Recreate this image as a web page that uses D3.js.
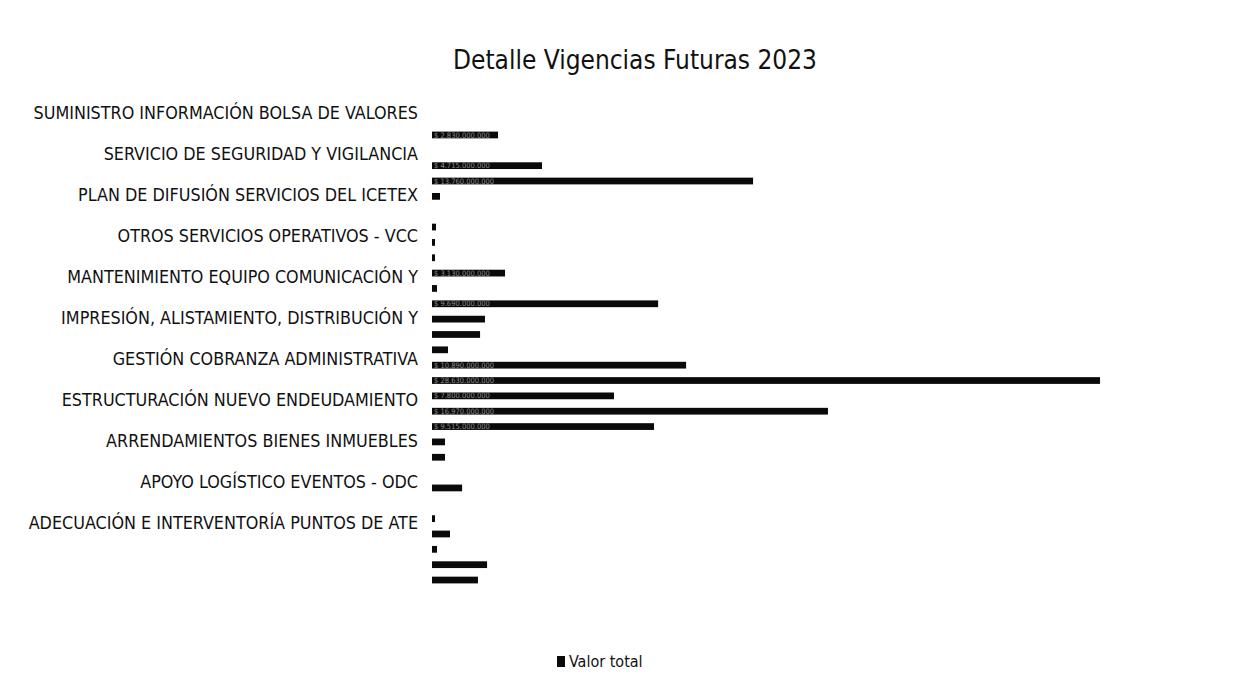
<!DOCTYPE html>
<html>
<head>
<meta charset="utf-8">
<script src="https://cdn.jsdelivr.net/npm/d3@7"></script>
<style>
  body { margin: 0; background: #fff; }
  text { font-family: "Liberation Sans Narrow", "DejaVu Sans Condensed", "Liberation Sans", sans-serif; }
</style>
</head>
<body>
<div id="chart"></div>
<script>
// group names shown on the category axis (top to bottom)
var categories = [
  "SUMINISTRO INFORMACIÓN BOLSA DE VALORES",
  "SERVICIO DE SEGURIDAD Y VIGILANCIA",
  "PLAN DE DIFUSIÓN SERVICIOS DEL ICETEX",
  "OTROS SERVICIOS OPERATIVOS - VCC",
  "MANTENIMIENTO EQUIPO COMUNICACIÓN Y",
  "IMPRESIÓN, ALISTAMIENTO, DISTRIBUCIÓN Y",
  "GESTIÓN COBRANZA ADMINISTRATIVA",
  "ESTRUCTURACIÓN NUEVO ENDEUDAMIENTO",
  "ARRENDAMIENTOS BIENES INMUEBLES",
  "APOYO LOGÍSTICO EVENTOS - ODC",
  "ADECUACIÓN E INTERVENTORÍA PUNTOS DE ATE"
];

// "Valor total" per contract row, top to bottom (pesos), null = empty row
var valorTotal = [
  2830000000, null, 4715000000, 13760000000, 343000000,
  null, 171000000, 129000000, 129000000, 3130000000,
  214000000, 9690000000, 2270000000, 2060000000, 686000000,
  10890000000, 28630000000, 7800000000, 16970000000, 9515000000,
  557000000, 557000000, null, 1290000000, null,
  129000000, 771000000, 214000000, 2360000000, 1970000000
];

var seriesName = "Valor total";
var title = "Detalle Vigencias Futuras 2023";

var width = 1249, height = 686;

var svg = d3.select("#chart").append("svg")
    .attr("width", width)
    .attr("height", height);

svg.append("text")
    .attr("x", 635)
    .attr("y", 69)
    .attr("text-anchor", "middle")
    .attr("font-size", 26)
    .attr("fill", "#111")
    .text(title);

var x = d3.scaleLinear()
    .domain([0, 30000000000])
    .range([432, 1132]);

var rows = valorTotal.map(function(v, i) { return {i: i, v: v}; });

var y = d3.scaleBand()
    .domain(d3.range(valorTotal.length))
    .range([127.3, 587.7])
    .paddingInner(0.56)
    .paddingOuter(0.28);

var yLabel = d3.scalePoint()
    .domain(categories)
    .range([113, 523]);

// category labels
svg.append("g")
    .attr("transform", "translate(426,0)")
    .call(d3.axisLeft(yLabel).tickSize(0).tickPadding(8))
    .call(function(g) { g.select(".domain").remove(); })
  .selectAll("text")
    .attr("font-size", 17.8)
    .attr("fill", "#111");

var fmt = function(v) { return "$ " + d3.format(",")(v).replace(/,/g, "."); };

var bar = svg.append("g")
  .selectAll("g")
  .data(rows.filter(function(d) { return d.v != null; }))
  .enter().append("g");

bar.append("rect")
    .attr("x", x(0))
    .attr("y", function(d) { return y(d.i); })
    .attr("width", function(d) { return Math.max(1.5, x(d.v) - x(0)); })
    .attr("height", y.bandwidth())
    .attr("fill", "#0a0a0a");

// data labels, only where the bar is long enough to hold them
bar.filter(function(d) { return x(d.v) - x(0) > 60; })
  .append("text")
    .attr("x", x(0) + 2)
    .attr("y", function(d) { return y(d.i) + y.bandwidth() / 2; })
    .attr("dy", "0.35em")
    .attr("font-size", 7.5)
    .attr("fill", "#8a8a8a")
    .text(function(d) { return fmt(d.v); });

// legend
var legend = svg.append("g")
    .attr("transform", "translate(557,656)");

legend.append("rect")
    .attr("width", 8)
    .attr("height", 11)
    .attr("fill", "#0a0a0a");

legend.append("text")
    .attr("x", 12)
    .attr("y", 11)
    .attr("font-size", 16)
    .attr("fill", "#111")
    .text(seriesName);
</script>
</body>
</html>
